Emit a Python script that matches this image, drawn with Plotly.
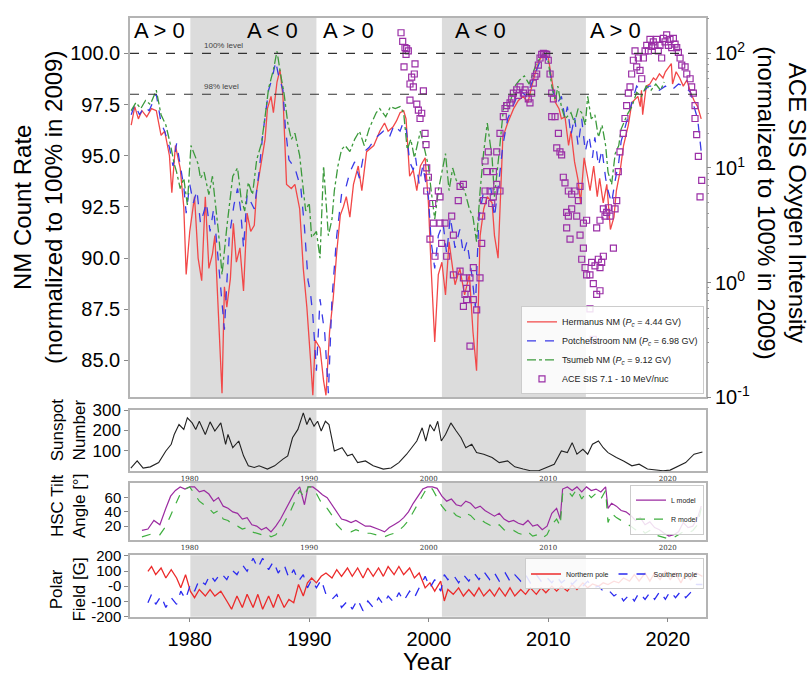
import plotly.graph_objects as go

# ---------------- data ----------------
herm_year = [1975.1,1975.4,1975.7,1976.0,1976.4,1976.8,1977.2,1977.6,1977.9,1978.3,1978.5,1978.8,1979.2,1979.5,1979.7,
             1980.0,1980.4,1980.7,1981.0,1981.3,1981.6,1981.9,1982.1,1982.4,1982.7,1982.9,1983.1,1983.4,1983.65,1983.9,
             1984.2,1984.5,1984.8,1985.1,1985.4,1985.6,1986.0,1986.3,1986.5,1986.8,1987.0,1987.3,1987.55,1987.8,1988.1,
             1988.5,1988.8,1989.2,1989.5,1989.8,1990.1,1990.3,1990.5,1990.9,1991.2,1991.4,1991.7,1992.0,1992.3,1992.6,
             1992.85,1993.1,1993.4,1993.7,1994.1,1994.4,1994.8,1995.4,1995.9,1996.3,1996.6,1997.0,1997.3,1997.6,1997.9,
             1998.1,1998.4,1998.7,1999.0,1999.3,1999.7,1999.97,2000.2,2000.5,2000.8,2001.1,2001.4,2001.7,2002.0,2002.2,
             2002.6,2003.0,2003.4,2003.7,2004.0,2004.3,2004.6,2004.9,2005.3,2005.5,2005.8,2006.2,2006.6,2007.1,2007.5,
             2007.9,2008.3,2008.75,2009.2,2009.6,2010.0,2010.3,2010.6,2010.9,2011.1,2011.4,2011.7,2011.9,2012.2,2012.5,
             2012.7,2013.0,2013.3,2013.5,2013.8,2014.1,2014.3,2014.6,2014.9,2015.2,2015.5,2015.7,2016.0,2016.3,2016.7,
             2017.0,2017.5,2017.7,2017.8,2017.9,2018.2,2018.5,2018.8,2019.0,2019.3,2019.6,2019.8,2020.3,2020.4,2020.7,
             2021.0,2021.3,2021.6,2021.9,2022.2,2022.5,2022.8]
herm_val = [96.5,97.4,96.8,97.2,96.9,97.3,97.2,96.0,96.2,95.0,93.2,95.5,94.4,92.5,89.2,
            91.3,93.0,90.0,88.9,93.0,89.5,90.2,91.1,87.3,83.4,88.6,87.6,89.0,91.7,89.8,
            90.5,88.4,92.2,91.3,91.6,93.3,94.7,95.8,97.3,97.9,97.1,98.6,99.2,97.9,93.6,
            93.4,93.6,92.4,89.5,87.6,85.1,83.3,86.0,85.6,84.0,83.3,86.4,88.0,90.3,92.1,
            92.5,93.0,92.0,93.6,94.5,93.3,95.2,95.5,96.2,96.6,96.2,96.4,96.7,97.1,97.2,
            96.8,94.0,94.3,93.3,94.5,94.9,92.7,89.5,85.9,89.2,89.8,88.2,90.8,89.5,88.7,
            89.5,88.2,89.2,86.4,84.5,91.1,92.4,93.0,92.7,91.1,90.0,95.9,96.6,97.3,97.7,
            97.9,97.6,98.7,99.6,100.0,99.8,98.7,97.6,97.3,96.8,96.9,95.5,96.2,94.7,93.8,
            92.7,94.9,93.9,93.3,94.5,93.0,93.9,92.7,93.6,91.4,92.0,93.3,94.2,95.5,96.5,
            97.6,97.9,97.4,98.2,97.0,98.4,98.5,98.8,98.7,99.0,98.8,99.1,99.5,98.5,99.1,
            98.8,98.4,98.7,98.1,97.7,97.4,96.8]

potch_year = [1975.1,1975.4,1975.8,1976.2,1976.6,1977.0,1977.2,1977.6,1977.9,1978.3,1978.6,1978.9,1979.2,1979.5,1979.7,
              1980.0,1980.3,1980.6,1980.9,1981.4,1981.7,1982.0,1982.4,1982.7,1982.9,1983.3,1983.7,1984.0,1984.25,1984.5,
              1984.8,1985.4,1985.8,1986.1,1986.4,1986.6,1986.9,1987.2,1987.4,1987.6,1987.8,1988.0,1988.3,1988.8,1989.3,
              1989.6,1989.9,1990.1,1990.3,1990.6,1990.9,1991.3,1991.6,1991.9,1992.3,1992.7,1993.0,1993.4,1993.8,1994.2,
              1994.6,1995.0,1995.6,1996.2,1996.7,1997.1,1997.6,1997.85,1998.1,1998.4,1998.7,1998.9,1999.2,1999.5,1999.97,
              2000.2,2000.5,2000.8,2001.2,2001.5,2001.8,2002.2,2002.6,2002.9,2003.2,2003.6,2003.9,2004.2,2004.6,2005.2,
              2005.5,2005.9,2006.2,2006.6,2007.2,2007.6,2008.2,2008.75,2009.3,2009.7,2010.1,2010.4,2010.8,2011.1,2011.4,
              2011.6,2011.9,2012.2,2012.5,2012.8,2013.1,2013.4,2013.7,2013.9,2014.2,2014.5,2014.8,2015.0,2015.3,2015.6,
              2015.9,2016.1,2016.6,2017.0,2017.4,2017.9,2018.4,2018.9,2019.3,2019.8,2020.3,2020.9,2021.4,2021.9,2022.2,
              2022.5,2022.8]
potch_val = [97.0,97.5,97.0,97.4,97.2,97.7,98.0,96.6,96.2,95.4,94.5,95.6,94.6,93.5,92.2,
             93.6,92.7,93.3,91.7,92.7,91.3,92.4,89.8,87.6,86.5,91.0,92.6,93.4,92.4,90.5,
             93.1,92.4,94.2,96.0,97.3,98.2,98.8,99.6,99.0,98.6,98.2,96.4,94.8,94.4,93.4,
             91.5,88.9,88.3,87.2,84.5,88.0,86.3,83.4,88.0,91.1,93.1,93.3,94.2,94.7,93.9,
             95.2,95.4,95.9,96.2,95.9,96.5,96.2,96.6,96.4,94.7,94.3,94.9,93.6,94.5,93.0,
             90.8,89.5,91.1,91.7,90.2,92.0,90.5,91.4,90.2,90.8,89.2,87.6,92.0,93.3,93.4,
             92.0,93.9,95.5,96.8,97.7,98.2,97.9,98.8,99.6,100.0,99.3,98.1,97.6,97.9,96.8,
             97.4,96.0,96.9,95.5,96.8,95.2,96.0,94.9,95.9,94.5,95.3,93.9,93.3,92.7,93.8,
             94.7,95.7,96.8,97.6,98.4,98.1,98.4,98.4,98.2,98.4,98.2,98.5,98.4,98.1,97.4,
             96.8,95.2]

tsum_year = [1975.1,1975.5,1975.9,1976.3,1976.7,1977.0,1977.2,1977.6,1978.0,1978.4,1978.7,1978.9,1979.2,1979.5,1979.8,
             1980.1,1980.4,1980.7,1980.9,1981.2,1981.6,1981.9,1982.1,1982.4,1982.7,1983.1,1983.6,1984.0,1984.3,1984.6,
             1984.9,1985.25,1985.6,1986.0,1986.3,1986.6,1987.0,1987.3,1987.6,1987.9,1988.2,1988.5,1988.8,1989.2,1989.4,
             1989.7,1990.0,1990.2,1990.6,1990.9,1991.2,1991.6,1991.9,1992.1,1992.4,1992.7,1993.0,1993.4,1993.8,1994.2,
             1994.6,1995.0,1995.6,1995.9,1996.4,1996.8,1997.2,1997.6,1997.9,1998.2,1998.5,1998.8,1999.3,1999.7,1999.97,
             2000.2,2000.5,2000.8,2001.1,2001.4,2001.7,2002.0,2002.3,2002.6,2003.0,2003.4,2003.7,2004.0,2004.3,2004.6,
             2004.9,2005.3,2005.5,2005.9,2006.3,2006.7,2007.2,2007.6,2008.0,2008.4,2009.0,2009.6,2010.0,2010.3,2010.6,
             2010.8,2011.1,2011.4,2011.7,2011.9,2012.2,2012.5,2012.8,2013.1,2013.3,2013.6,2013.9,2014.2,2014.5,2014.8,
             2015.0,2015.3,2015.6,2015.9,2016.1,2016.6,2017.0,2017.4,2017.8,2018.2,2018.6,2019.0,2019.4,2019.7]
tsum_val = [97.2,97.6,97.3,97.7,97.5,97.9,98.2,97.0,96.5,95.5,94.6,94.2,93.4,93.9,92.6,
            95.5,95.0,94.6,93.9,94.2,93.1,94.0,92.9,91.3,89.2,91.5,94.0,94.4,92.9,92.3,
            93.7,93.1,94.8,95.6,96.9,98.3,99.2,100.1,99.0,98.0,96.6,95.8,96.1,95.0,93.9,
            92.3,92.7,91.0,91.3,90.0,94.5,91.1,91.9,93.3,94.5,95.3,95.5,95.2,95.8,96.2,
            95.5,96.3,97.1,97.3,96.9,97.4,97.3,97.4,97.1,95.3,95.8,94.9,96.2,95.2,94.5,
            93.3,91.9,93.3,94.2,95.1,93.3,94.4,93.8,93.6,93.3,92.4,92.0,90.8,93.3,95.2,
            96.6,94.9,93.0,95.2,97.6,97.4,98.4,98.7,98.9,98.5,99.5,100.0,99.6,98.4,97.7,
            98.4,97.4,96.8,97.0,97.1,96.6,97.3,97.1,96.5,97.9,96.8,97.0,95.9,96.5,95.5,
            94.2,93.6,95.1,95.5,96.3,97.0,97.4,98.1,97.9,98.4,98.2,98.5,98.2,98.6]

ace_year = [1997.68,1997.82,1998.01,1998.15,1998.10,1997.93,1998.29,1998.85,1998.79,1998.57,1998.43,1998.71,1999.55,
            1998.43,1999.00,1999.13,1999.41,1999.27,1999.69,1999.77,1999.83,1999.97,1999.83,2000.33,2000.80,2000.94,
            2000.38,2000.10,2000.52,2001.08,2000.94,2001.36,2001.50,2001.92,2002.06,2002.62,2002.90,2002.47,2002.06,
            2002.62,2002.90,2003.03,2003.17,2003.45,2003.73,2003.17,2002.90,2003.45,2003.73,2004.01,2004.29,2004.43,
            2004.43,2004.57,2004.71,2004.85,2004.98,2005.27,2005.40,2005.69,2005.96,2004.71,
            2005.13,2005.41,2005.69,2005.96,2006.24,2006.52,2006.80,2007.08,2007.36,2007.64,2007.92,2008.33,2008.47,
            2008.75,2009.03,2009.31,2009.59,2009.87,2010.00,2010.15,2010.29,2010.29,2010.43,2010.57,2010.71,2010.85,
            2010.98,2011.12,2011.26,2011.40,2011.54,2011.54,2011.68,2011.68,2011.82,2011.96,2011.96,2012.24,2012.38,
            2012.52,2012.66,2012.66,2012.80,2012.94,2012.94,2013.08,2013.21,2013.21,2013.49,2013.49,2013.63,2013.77,
            2013.77,2013.91,2014.05,2014.05,2014.19,2014.33,2014.33,2014.33,2014.47,2014.61,2014.61,2014.75,2014.89,
            2015.03,2015.17,2015.45,2015.59,2015.73,2015.86,2016.00,2016.28,2016.42,2016.56,2016.70,2016.84,2016.98,
            2017.12,2017.26,2017.54,2017.68,2017.96,2018.10,2018.24,2018.51,2018.79,2018.93,2019.07,2019.35,2019.49,
            2019.63,2019.91,2020.19,2020.47,2020.75,2020.89,2021.03,2021.17,2021.45,2021.59,2021.87,2022.00,2022.14,
            2022.28,2022.28,2022.42,2022.56,2022.84,2022.70,
            2018.38,2018.65,2019.21,2019.77,2020.05,2020.33,2020.61,2017.40,2017.82,
            2009.17,2009.45,2009.73,2008.89,2008.61,2008.06,2007.50,2006.94,2006.38]
ace_val = [151,127,112,110,98,76,105,81,66,62,54,51,47,
           39,36,32,30,27,20,16,10,8.3,6.3,4.9,6.3,5.6,
           3.3,2.4,1.7,2.2,3.3,3.3,1.7,3.8,2.6,6.9,7.2,5.2,1.17,
           1.26,1.10,0.79,0.89,1.10,1.35,0.71,0.62,0.28,0.71,0.58,1.10,2.2,
           3.8,5.2,6.3,9.3,13.8,4.9,5.6,7.2,6.3,11.5,
           6.3,9.3,13.8,20,28,35,37,45,48,51,45,40,37,
           55,66,91,100,98,87,66,45,28,40,28,15,20,
           13.8,13,8.3,7.4,4.1,3.0,6.3,3.8,2.4,5.9,4.4,6.3,3.8,
           5.2,6.9,2.6,1.6,3.3,2.0,1.35,3.5,1.17,1.17,0.59,1.5,0.98,
           0.32,1.4,0.79,3.0,1.6,0.85,1.35,3.5,1.5,1.7,4.4,3.8,4.1,
           4.5,3.8,2.0,4.4,5.2,9.3,13.8,20,27,35,45,51,66,
           87,105,91,71,91,105,117,132,126,117,132,117,91,
           135,145,132,135,112,102,91,79,76,66,60,51,45,
           35,27,19.5,12.6,7.8,5.6,
           105,115,105,126,117,112,120,76,60,
           79,98,99,63,45,48,43,40,33]

ssn_year = [1975.07,1975.6,1976.1,1976.7,1977.4,1978.0,1978.45,1978.7,1979.1,1979.5,1979.8,1980.2,1980.5,1980.8,1981.3,
            1981.7,1982.1,1982.6,1983.0,1983.2,1983.6,1984.1,1984.5,1984.9,1985.4,1985.8,1986.5,1987.1,1987.8,1988.2,
            1988.6,1989.05,1989.5,1989.8,1990.05,1990.4,1990.7,1991.0,1991.35,1991.65,1992.1,1992.75,1993.2,1993.6,1994.05,
            1994.7,1995.35,1996.2,1996.85,1997.5,1998.15,1998.6,1999.0,1999.45,1999.75,2000.1,2000.45,2000.75,2001.05,2001.4,
            2001.85,2002.3,2002.7,2003.1,2003.6,2004.0,2004.6,2005.3,2005.9,2006.6,2007.2,2007.9,2008.5,2009.2,2009.8,
            2010.5,2011.1,2011.6,2012.0,2012.4,2012.9,2013.3,2013.7,2014.2,2014.6,2015.0,2015.7,2016.3,2017.0,2017.6,
            2018.3,2018.9,2019.6,2020.2,2020.9,2021.5,2022.2,2022.9]
ssn_val = [15,50,15,21,42,99,132,180,229,205,262,237,205,245,180,
           242,197,237,132,180,115,148,75,26,18,26,10,26,59,75,
           164,205,286,229,262,221,245,197,245,229,99,115,75,83,42,
           50,26,10,15,42,83,115,148,213,148,229,197,245,148,180,
           237,197,164,115,132,91,83,67,42,50,21,10,2,2,15,
           34,99,91,140,83,107,83,132,148,115,91,67,50,26,34,
           10,5,2,5,26,42,83,94]

tilt_year = [1976.0,1976.5,1977.0,1977.5,1978.0,1978.4,1978.8,1979.2,1979.6,1980.0,1980.4,1980.8,1981.2,1981.6,1982.0,
             1982.4,1982.8,1983.2,1983.6,1984.0,1984.4,1984.8,1985.2,1985.6,1986.0,1986.4,1986.8,1987.2,1987.6,1988.0,
             1988.4,1988.8,1989.2,1989.6,1989.9,1990.3,1990.7,1991.1,1991.5,1991.9,1992.3,1992.7,1993.1,1993.5,1993.9,
             1994.3,1994.7,1995.1,1995.5,1995.9,1996.3,1996.7,1997.1,1997.5,1997.9,1998.3,1998.7,1999.1,1999.5,1999.9,
             2000.3,2000.7,2001.1,2001.5,2001.9,2002.3,2002.7,2003.1,2003.5,2003.9,2004.3,2004.7,2005.1,2005.5,2005.9,
             2006.3,2006.7,2007.1,2007.5,2007.9,2008.3,2008.7,2009.1,2009.5,2009.9,2010.3,2010.7,2011.0,2011.2,2011.6,
             2012.0,2012.4,2012.8,2013.2,2013.6,2014.0,2014.4,2014.8,2015.0,2015.3,2015.7,2016.1,2016.5,2016.9,2017.3,
             2017.7,2018.1,2018.5,2018.9,2019.3,2019.7,2020.1,2020.5,2020.9,2021.3,2021.7,2022.1,2022.5,2022.8]
tilt_L = [14,16,28,22,45,62,70,75,72,75,75,68,70,65,55,
          60,48,45,40,38,30,32,22,20,15,18,12,20,30,42,
          55,68,75,50,75,75,70,64,60,50,40,30,28,25,28,
          24,20,20,18,15,12,18,22,26,32,40,52,62,72,75,
          75,73,62,55,58,50,48,55,52,45,48,42,38,34,38,
          30,26,28,24,22,28,20,22,15,20,38,45,30,72,75,
          70,75,68,75,70,72,68,75,45,52,48,42,40,35,28,
          32,22,26,18,15,10,6,8,12,25,18,20,32,48]
tilt_R = [5,8,10,8,20,35,50,65,72,75,65,55,50,45,38,
          42,30,28,22,20,16,18,12,10,8,10,5,8,15,28,
          40,55,70,60,75,75,62,50,45,35,22,15,14,12,15,
          12,10,10,8,6,5,8,10,14,20,28,40,52,65,75,
          72,60,48,40,42,35,32,38,35,28,30,25,22,18,22,
          15,12,14,10,8,12,6,8,3,8,22,30,20,65,70,
          62,72,58,68,60,66,58,70,25,38,32,28,25,20,15,
          18,10,14,8,6,4,2,4,8,12,10,14,22,45]

pol_year = [1976.5,1976.8,1977.15,1977.6,1978.0,1978.45,1978.9,1979.25,1979.65,1980.05,1980.4,1980.8,1981.3,1981.7,1982.1,
            1982.6,1983.1,1983.5,1983.95,1984.4,1984.8,1985.3,1985.7,1986.1,1986.6,1987.0,1987.4,1987.9,1988.3,1988.7,
            1989.1,1989.5,1989.85,1990.2,1990.6,1991.0,1991.4,1991.9,1992.3,1992.7,1993.2,1993.6,1994.05,1994.5,1994.9,
            1995.35,1995.8,1996.2,1996.6,1997.1,1997.5,1997.9,1998.4,1998.8,1999.2,1999.7,2000.1,2000.5,2001.0,2001.3,
            2001.6,2002.05,2002.5,2002.9,2003.35,2003.8,2004.2,2004.6,2005.1,2005.5,2005.9,2006.4,2006.8,2007.2,2007.7,
            2008.1,2008.5,2009.0,2009.4,2009.8,2010.3,2010.7,2011.1,2011.6,2012.0,2012.4,2012.9,2013.3,2013.7,2014.2,
            2014.6,2015.0,2015.5,2015.9,2016.3,2016.8,2017.2,2017.6,2018.1,2018.5,2018.9,2019.35,2019.8,2020.2,2020.65,
            2021.1,2021.5,2021.9,2022.4,2022.9]
pol_north = [98,130,76,120,54,109,54,-11,76,-33,-76,-22,-65,-22,-65,
             -33,-98,-152,-65,-141,-54,-141,-54,-152,-65,-141,-54,-141,-87,-109,
             11,-65,22,54,22,65,87,54,109,65,120,65,120,54,120,
             65,120,65,130,76,130,76,120,54,87,-11,22,-33,33,-98,
             -22,-54,-11,-65,-22,-65,-11,-65,-22,-65,-11,-65,-11,-65,-22,
             -54,-11,-54,-11,-43,0,-33,0,-33,11,-22,22,-11,15,0,
             22,11,33,22,54,33,76,33,87,33,87,43,98,43,87,
             22,87,43,87,65]
pol_south = [-109,-54,-120,-65,-141,-76,-120,-33,-87,11,-33,43,11,76,33,
             87,43,109,76,141,98,185,120,185,109,163,87,141,54,109,
             33,76,-11,43,-11,43,-54,-87,-54,-141,-98,-152,-87,-163,-98,
             -141,-76,-120,-65,-109,-43,-98,-33,-76,-11,65,-11,43,-33,76,
             43,76,22,76,33,87,43,98,43,87,33,87,33,76,33,
             76,22,76,33,65,22,65,22,54,11,43,0,33,-11,0,
             -33,-22,-65,-43,-98,-54,-98,-43,-87,-43,-87,-33,-87,-33,-76,
             -33,-76,-43,11,11]

level_values = [100, 98]
level_labels = ["100% level", "98% level"]
neg_epochs = [(1980.05, 1990.6), (2001.1, 2013.15)]
epoch_labels = [(1977.5, "A > 0"), (1986.9, "A < 0"), (1993.25, "A > 0"), (2004.3, "A < 0"), (2015.6, "A > 0")]
nm_ticks = [85.0, 87.5, 90.0, 92.5, 95.0, 97.5, 100.0]
ace_ticks = [0.1, 1, 10, 100]
year_ticks = [1980, 1990, 2000, 2010, 2020]

# ---------------- layout helpers ----------------
W, H = 811, 686
L, R = 130 / W, 706 / W
def ydom(top, bot):
    return [1 - bot / H, 1 - top / H]

FONT = "Liberation Sans, Arial, sans-serif"
FRAME = dict(showline=True, mirror=True, linecolor="#b4b4b4", linewidth=1.5, showgrid=False, zeroline=False)
XRANGE = [1975.0, 2023.2]

fig = go.Figure()

# main panel
fig.add_trace(go.Scatter(x=herm_year, y=herm_val, mode="lines", xaxis="x", yaxis="y",
                         line=dict(color="#f24848", width=1.3),
                         name="Hermanus NM (<i>P<sub>c</sub></i> = 4.44 GV)"))
fig.add_trace(go.Scatter(x=potch_year, y=potch_val, mode="lines", xaxis="x", yaxis="y",
                         line=dict(color="#3a3ae6", width=1.3, dash="dash"),
                         name="Potchefstroom NM (<i>P<sub>c</sub></i> = 6.98 GV)"))
fig.add_trace(go.Scatter(x=tsum_year, y=tsum_val, mode="lines", xaxis="x", yaxis="y",
                         line=dict(color="#3c9a3c", width=1.3, dash="dashdot"),
                         name="Tsumeb NM (<i>P<sub>c</sub></i> = 9.12 GV)"))
fig.add_trace(go.Scatter(x=ace_year, y=ace_val, mode="markers", xaxis="x", yaxis="y2",
                         marker=dict(symbol="square-open", size=6, color="#9a2fa6", line=dict(width=1.2)),
                         name="ACE SIS 7.1 - 10 MeV/nuc"))

# sunspot
fig.add_trace(go.Scatter(x=ssn_year, y=ssn_val, mode="lines", xaxis="x2", yaxis="y3",
                         line=dict(color="#222222", width=1.1), showlegend=False))
# tilt
fig.add_trace(go.Scatter(x=tilt_year, y=tilt_L, mode="lines", xaxis="x3", yaxis="y4",
                         line=dict(color="#9b2ba0", width=1.2), name="L model", legend="legend2"))
fig.add_trace(go.Scatter(x=tilt_year, y=tilt_R, mode="lines", xaxis="x3", yaxis="y4",
                         line=dict(color="#3fae3f", width=1.2, dash="dash"), name="R model", legend="legend2"))
# polar field
fig.add_trace(go.Scatter(x=pol_year, y=pol_north, mode="lines", xaxis="x4", yaxis="y5",
                         line=dict(color="#ec2b2b", width=1.3), name="Northern pole", legend="legend3"))
fig.add_trace(go.Scatter(x=pol_year, y=pol_south, mode="lines", xaxis="x4", yaxis="y5",
                         line=dict(color="#2b2bef", width=1.3, dash="dash"), name="Southern pole", legend="legend3"))

shapes = []
for (a, b) in neg_epochs:
    for yr in ["y", "y3", "y4", "y5"]:
        xr = {"y": "x", "y3": "x2", "y4": "x3", "y5": "x4"}[yr]
        shapes.append(dict(type="rect", xref=xr, yref=yr + " domain", x0=a, x1=b, y0=0, y1=1,
                           fillcolor="#dcdcdc", line=dict(width=0), layer="below"))
for v in level_values:
    shapes.append(dict(type="line", xref="x domain", yref="y", x0=0, x1=1, y0=v, y1=v,
                       line=dict(color="#333333", width=1.1, dash="dash")))

def title_ann(xpx, ypx, text, size, angle=0):
    return dict(x=xpx / W, y=1 - ypx / H, xref="paper", yref="paper", textangle=angle, showarrow=False,
                xanchor="center", yanchor="middle", text=text,
                font=dict(size=size, color="black", family=FONT))

annotations = []
for v, t in zip(level_values, level_labels):
    annotations.append(dict(x=1981.0, y=v, xref="x", yref="y", text=t, showarrow=False,
                            xanchor="left", yanchor="bottom", yshift=1,
                            font=dict(size=8, color="#444444", family=FONT)))
for xv, t in epoch_labels:
    annotations.append(dict(x=xv, y=1 - 22 / H, xref="x", yref="paper", text=t, showarrow=False,
                            xanchor="center", yanchor="middle",
                            font=dict(size=22, color="black", family=FONT)))
annotations += [
    title_ann(38, 204, "NM Count Rate<br>(normalized to 100% in 2009)", 24, -90),
    title_ann(782, 200, "ACE SIS Oxygen Intensity<br>(normalized to 100% in 2009)", 24, 90),
    title_ann(68, 434, "Sunspot<br>Number", 17, -90),
    title_ann(68, 512, "HSC Tilt<br>Angle [°]", 17, -90),
    title_ann(68, 598, "Polar<br>Field [G]", 17, -90),
    title_ann(428, 672, "Year", 24),
]

small_x = dict(domain=[L, R], range=XRANGE, tickvals=year_ticks, ticks="", ticklen=0,
               tickfont=dict(size=7, family="DejaVu Serif", color="#333333"), **FRAME)
sub_y_font = dict(size=17, family=FONT, color="black")
tight_y_font = dict(size=15, family=FONT, color="black")

minor_log = [0.2,0.3,0.4,0.5,0.6,0.7,0.8,0.9,2,3,4,5,6,7,8,9,20,30,40,50,60,70,80,90,200]

fig.update_layout(
    width=W, height=H, margin=dict(l=0, r=0, t=0, b=0),
    paper_bgcolor="white", plot_bgcolor="white",
    font=dict(family=FONT, color="black"),
    shapes=shapes, annotations=annotations,
    xaxis=dict(domain=[L, R], range=XRANGE, anchor="y", showticklabels=False, ticks="", **FRAME),
    yaxis=dict(domain=ydom(9, 400), range=[83.2, 101.74], anchor="x",
               tickvals=nm_ticks, ticktext=["%.1f" % v for v in nm_ticks],
               ticks="outside", ticklen=4, tickcolor="#888", tickfont=dict(size=20, family=FONT), **FRAME),
    yaxis2=dict(overlaying="y", side="right", type="log", range=[-1, 2.31], anchor="x",
                tickvals=ace_ticks, ticktext=["10<sup>-1</sup>", "10<sup>0</sup>", "10<sup>1</sup>", "10<sup>2</sup>"],
                ticks="outside", ticklen=4, tickcolor="#888", tickfont=dict(size=20, family=FONT),
                minor=dict(tickvals=minor_log, ticks="outside", ticklen=2, tickcolor="#999"),
                showgrid=False, zeroline=False, showline=False),
    xaxis2=dict(anchor="y3", **small_x),
    yaxis3=dict(domain=ydom(412.7, 476), range=[0, 302], anchor="x2", tickvals=[100, 200, 300],
                ticks="outside", ticklen=4, tickcolor="#888", tickfont=sub_y_font, **FRAME),
    xaxis3=dict(anchor="y4", **small_x),
    yaxis4=dict(domain=ydom(488, 547), range=[0.5, 80.8], anchor="x3", tickvals=[20, 40, 60],
                ticks="outside", ticklen=4, tickcolor="#888", tickfont=tight_y_font, **FRAME),
    xaxis4=dict(domain=[L, R], range=XRANGE, anchor="y5", tickvals=year_ticks, ticks="outside", ticklen=4,
                tickcolor="#888", tickfont=dict(size=20, family=FONT), **FRAME),
    yaxis5=dict(domain=ydom(562.7, 626), range=[-202, 204], anchor="x4",
                tickvals=[-200, -100, 0, 100, 200], ticktext=["-200", "-100", "-0", "100", "200"],
                ticks="outside", ticklen=4, tickcolor="#888", tickfont=tight_y_font, **FRAME),
    legend=dict(x=704 / W, y=1 - 397 / H, xanchor="right", yanchor="bottom",
                bgcolor="rgba(255,255,255,0.85)", bordercolor="#cccccc", borderwidth=1,
                font=dict(size=9, family=FONT, color="#222"), tracegroupgap=0),
    legend2=dict(x=704 / W, y=1 - 490 / H, xanchor="right", yanchor="top",
                 bgcolor="rgba(255,255,255,0.85)", bordercolor="#cccccc", borderwidth=1,
                 font=dict(size=7, family=FONT, color="#222")),
    legend3=dict(x=704 / W, y=1 - 566 / H, xanchor="right", yanchor="top", orientation="h",
                 bgcolor="rgba(255,255,255,0.85)", bordercolor="#cccccc", borderwidth=1,
                 font=dict(size=7, family=FONT, color="#222")),
)

fig.write_html("out.html")
